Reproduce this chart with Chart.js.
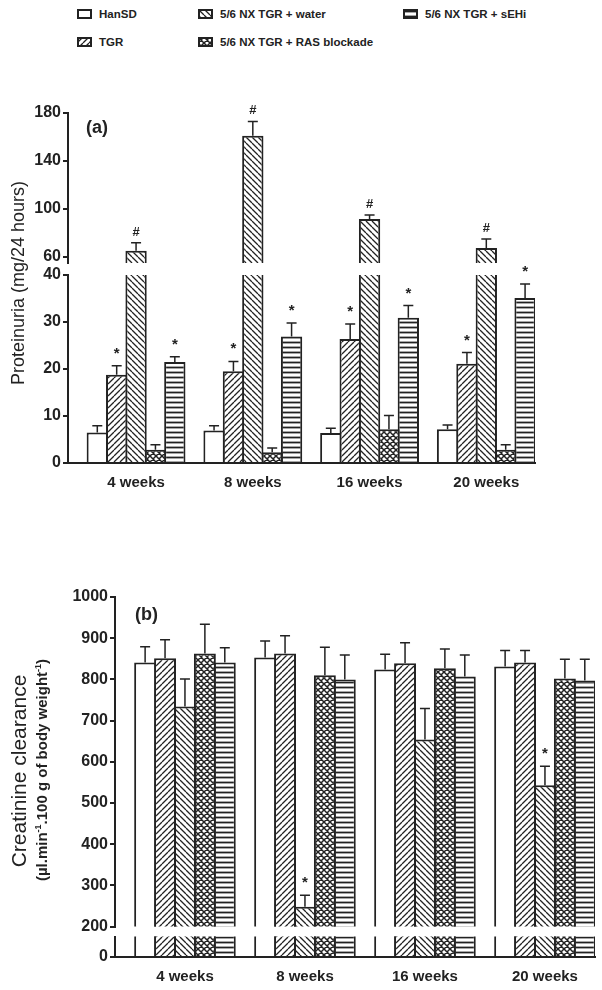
<!DOCTYPE html>
<html>
<head>
<meta charset="utf-8">
<script src="https://cdn.jsdelivr.net/npm/chart.js@4.4.1/dist/chart.umd.min.js"></script>
<style>
  html, body { margin: 0; padding: 0; background: #fff; }
  body { width: 602px; height: 990px; position: relative; overflow: hidden; font-family: "Liberation Sans", Arial, sans-serif; color: #222; }
  canvas.chart { position: absolute; left: 0; }
  .leg { position: absolute; font-size: 11.5px; font-weight: bold; line-height: 14px; white-space: nowrap; }
  .leg canvas { position: absolute; left: 0; top: 2px; }
  .leg span { padding-left: 22px; }
  .lbl { position: absolute; font-weight: bold; font-size: 18px; line-height: 20px; white-space: nowrap; }
  .vt { position: absolute; white-space: nowrap; transform: translate(-50%, -50%) rotate(-90deg); }
  .vt sup { font-size: 9px; }
</style>
</head>
<body>

<div class="leg" style="left:77px; top:7px"><canvas id="sw0" width="15" height="10"></canvas><span>HanSD</span></div>
<div class="leg" style="left:77px; top:35px"><canvas id="sw1" width="15" height="10"></canvas><span>TGR</span></div>
<div class="leg" style="left:198px; top:7px"><canvas id="sw2" width="15" height="10"></canvas><span>5/6 NX TGR + water</span></div>
<div class="leg" style="left:198px; top:35px"><canvas id="sw3" width="15" height="10"></canvas><span>5/6 NX TGR + RAS blockade</span></div>
<div class="leg" style="left:403px; top:7px"><canvas id="sw4" width="15" height="10"></canvas><span>5/6 NX TGR + sEHi</span></div>

<canvas class="chart" id="a1" width="602" height="180" style="top:95px"></canvas>
<canvas class="chart" id="a2" width="602" height="260" style="top:240px"></canvas>
<canvas class="chart" id="b1" width="602" height="370" style="top:570px"></canvas>
<canvas class="chart" id="b2" width="602" height="65" style="top:925px"></canvas>

<div class="lbl" style="left:86px; top:117px">(a)</div>
<div class="lbl" style="left:135px; top:604px">(b)</div>
<div class="vt" style="left:18px; top:283px; font-size:18px">Proteinuria (mg/24 hours)</div>
<div class="vt" style="left:19px; top:771px; font-size:21px">Creatinine clearance</div>
<div class="vt" style="left:41px; top:770px; font-size:15px; font-weight:bold">(µl.min<sup>-1</sup>.100 g of body weight<sup>-1</sup>)</div>

<script>
const weeks = ['4 weeks', '8 weeks', '16 weeks', '20 weeks'];
const groups = ['HanSD', 'TGR', '5/6 NX TGR + water', '5/6 NX TGR + RAS blockade', '5/6 NX TGR + sEHi'];

// Proteinuria (mg/24 hours): mean and SEM
const protHanSD = [6.5, 6.9, 6.4, 7.2];
const protTGR = [18.8, 19.5, 26.4, 21.1];
const protWater = [65.3, 161, 91.7, 67.5];
const protRAS = [2.8, 2.3, 7.2, 2.8];
const protSEHi = [21.5, 26.9, 30.9, 35.1];
const protHanSDErr = [1.4, 1.0, 1.0, 0.9];
const protTGRErr = [1.9, 2.1, 3.2, 2.4];
const protWaterErr = [6.6, 12, 3.3, 7.5];
const protRASErr = [1.1, 0.9, 2.9, 1.1];
const protSEHiErr = [1.1, 2.9, 2.6, 3.0];
const protMarks = [['', '', '', ''], ['*', '*', '*', '*'], ['#', '#', '#', '#'], ['', '', '', ''], ['*', '*', '*', '*']];

// Creatinine clearance: mean and SEM
const clearHanSD = [841, 853, 824, 831];
const clearTGR = [851, 863, 839, 841];
const clearWater = [734, 248, 654, 543];
const clearRAS = [863, 810, 827, 802];
const clearSEHi = [841, 800, 807, 797];
const clearHanSDErr = [38, 40, 37, 39];
const clearTGRErr = [45, 43, 50, 29];
const clearWaterErr = [67, 28, 75, 46];
const clearRASErr = [71, 68, 47, 47];
const clearSEHiErr = [36, 59, 52, 52];
const clearMarks = [['', '', '', ''], ['', '', '', ''], ['', '*', '', '*'], ['', '', '', ''], ['', '', '', '']];

// y ticks of each axis piece
const protTicksUp = [60, 100, 140, 180];
const protTicksLow = [0, 10, 20, 30, 40];
const clearTicksUp = [200, 300, 400, 500, 600, 700, 800, 900, 1000];
const clearTicksLow = [0, 50];

const ink = '#222';
const fontFam = '"Liberation Sans", Arial, sans-serif';
Chart.defaults.color = ink;
Chart.defaults.font.family = fontFam;

// hatch fills
function makePattern(kind) {
  if (kind === 'none') return '#fff';
  const s = kind === 'horiz' ? 5 : 6;
  const c = document.createElement('canvas');
  c.width = s; c.height = s;
  const g = c.getContext('2d');
  g.fillStyle = '#fff';
  g.fillRect(0, 0, s, s);
  g.strokeStyle = ink;
  g.lineWidth = kind === 'cross' ? 1.5 : 1.3;
  g.beginPath();
  if (kind === 'fwd' || kind === 'cross') {
    for (let k = -1; k <= 1; k++) { g.moveTo(k * s, s); g.lineTo(k * s + s, 0); }
  }
  if (kind === 'back' || kind === 'cross') {
    for (let k = -1; k <= 1; k++) { g.moveTo(k * s, 0); g.lineTo(k * s + s, s); }
  }
  if (kind === 'horiz') {
    g.lineWidth = 1.8;
    g.moveTo(0, s / 2); g.lineTo(s, s / 2);
  }
  g.stroke();
  return g.createPattern(c, 'repeat');
}
const fills = ['none', 'fwd', 'back', 'cross', 'horiz'].map(makePattern);

// legend swatches
fills.forEach((f, i) => {
  const g = document.getElementById('sw' + i).getContext('2d');
  g.fillStyle = f;
  g.fillRect(0, 0, 15, 10);
  g.strokeStyle = ink;
  g.lineWidth = 2;
  g.strokeRect(1, 1, 13, 8);
});

// error bars and significance marks
const errorBars = {
  id: 'errorBars',
  afterDatasetsDraw(chart) {
    const ctx = chart.ctx;
    const y = chart.scales.y;
    ctx.save();
    ctx.strokeStyle = ink;
    ctx.fillStyle = ink;
    ctx.lineWidth = 1.5;
    ctx.textAlign = 'center';
    ctx.textBaseline = 'alphabetic';
    chart.data.datasets.forEach((ds, i) => {
      const meta = chart.getDatasetMeta(i);
      meta.data.forEach((bar, j) => {
        const v = ds.data[j].y, e = ds.errors[j];
        if (v < y.min || v + e > y.max) return;
        const yTop = y.getPixelForValue(v + e);
        ctx.beginPath();
        ctx.moveTo(bar.x, bar.y);
        ctx.lineTo(bar.x, yTop);
        ctx.moveTo(bar.x - 5, yTop);
        ctx.lineTo(bar.x + 5, yTop);
        ctx.stroke();
        const m = ds.marks[j];
        if (m === '*') {
          ctx.font = 'bold 15px ' + fontFam;
          ctx.fillText('*', bar.x, yTop - 8);
        } else if (m === '#') {
          ctx.font = 'bold 13px ' + fontFam;
          ctx.fillText('#', bar.x, yTop - 7);
        }
      });
    });
    ctx.restore();
  }
};

function buildChart(id, cfg) {
  const datasets = cfg.series.map((vals, i) => ({
    label: groups[i],
    data: vals.map((v, j) => ({ x: j, y: v })),
    errors: cfg.errors[i],
    marks: cfg.marks[i],
    backgroundColor: fills[i],
    borderColor: ink,
    borderWidth: 2,
    clip: 0,
    categoryPercentage: 0.83,
    barPercentage: 1.1
  }));
  return new Chart(document.getElementById(id), {
    type: 'bar',
    data: { datasets },
    options: {
      responsive: false,
      animation: false,
      devicePixelRatio: 1,
      layout: { padding: cfg.padding },
      plugins: { legend: { display: false }, tooltip: { enabled: false } },
      scales: {
        x: {
          type: 'linear',
          offset: false,
          min: -0.583,
          max: 3.417,
          afterBuildTicks: s => { s.ticks = weeks.map((w, i) => ({ value: i })); },
          afterFit: s => { s.height = cfg.xHeight; },
          grid: { display: false, drawTicks: false },
          border: { display: cfg.xHeight > 0, color: ink, width: 2 },
          ticks: {
            display: cfg.xHeight > 0,
            callback: v => weeks[v],
            color: ink,
            padding: 11,
            maxRotation: 0,
            autoSkip: false,
            font: { size: 15, weight: 'bold' }
          }
        },
        y: {
          min: cfg.yMin,
          max: cfg.yMax,
          afterBuildTicks: s => { s.ticks = cfg.yTicks.map(v => ({ value: v })); },
          afterFit: s => { s.width = cfg.axisX; },
          grid: { drawOnChartArea: false, color: ink, lineWidth: 2, tickLength: 5 },
          border: { color: ink, width: 2 },
          ticks: {
            callback: v => (cfg.hideTop && v === cfg.yMax ? '' : v),
            color: ink,
            padding: 2,
            font: { size: 16, weight: 'bold' }
          }
        }
      }
    },
    plugins: [errorBars]
  });
}

const protSeries = [protHanSD, protTGR, protWater, protRAS, protSEHi];
const protErrors = [protHanSDErr, protTGRErr, protWaterErr, protRASErr, protSEHiErr];
const clearSeries = [clearHanSD, clearTGR, clearWater, clearRAS, clearSEHi];
const clearErrors = [clearHanSDErr, clearTGRErr, clearWaterErr, clearRASErr, clearSEHiErr];

buildChart('a1', {
  series: protSeries, errors: protErrors, marks: protMarks,
  yMin: 55, yMax: 180, yTicks: protTicksUp, axisX: 68, xHeight: 0,
  padding: { top: 18, bottom: 12, left: 0, right: 67 }
});
buildChart('a2', {
  series: protSeries, errors: protErrors, marks: protMarks,
  yMin: 0, yMax: 40, yTicks: protTicksLow, axisX: 68, xHeight: 37,
  padding: { top: 35, bottom: 0, left: 0, right: 67 }
});
buildChart('b1', {
  series: clearSeries, errors: clearErrors, marks: clearMarks,
  yMin: 200, yMax: 1000, yTicks: clearTicksUp, axisX: 115, xHeight: 0,
  padding: { top: 27, bottom: 13.5, left: 0, right: 7 }
});
buildChart('b2', {
  series: clearSeries, errors: clearErrors, marks: clearMarks,
  yMin: 0, yMax: 50, yTicks: clearTicksLow, axisX: 115, xHeight: 33, hideTop: true,
  padding: { top: 10, bottom: 0, left: 0, right: 7 }
});
</script>
</body>
</html>
